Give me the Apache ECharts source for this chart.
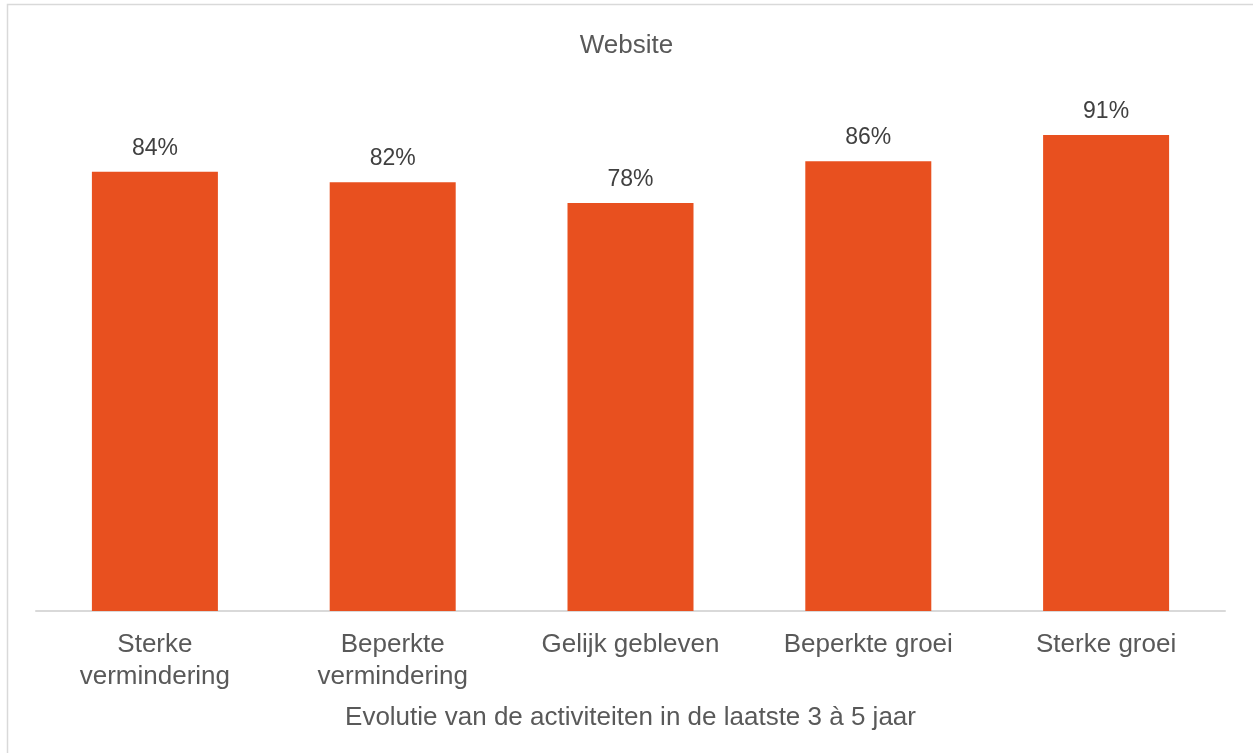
<!DOCTYPE html>
<html>
<head>
<meta charset="utf-8">
<script src="https://cdn.jsdelivr.net/npm/echarts@6/dist/echarts.min.js"></script>
<style>
  html, body { margin: 0; padding: 0; background: #ffffff; }
  #chart { width: 1253px; height: 753px; }
</style>
</head>
<body>
<div id="chart"></div>
<script>
// Share of companies with a website, by evolution of activities
const categories = ['Sterke\nvermindering', 'Beperkte\nvermindering', 'Gelijk gebleven', 'Beperkte groei', 'Sterke groei'];
const values = [84, 82, 78, 86, 91];
const chartTitle = 'Website';
const axisTitle = 'Evolutie van de activiteiten in de laatste 3 à 5 jaar';

const textColor = '#595959';
const barColor = '#E8501F';
const fontFamily = 'Liberation Sans, Arial, sans-serif';

const chart = echarts.init(document.getElementById('chart'), null, { renderer: 'canvas' });
chart.setOption({
  backgroundColor: '#ffffff',
  animation: false,
  title: {
    text: chartTitle,
    left: 'center',
    top: 28,
    textStyle: { color: textColor, fontSize: 26, fontWeight: 'normal', fontFamily }
  },
  graphic: [{
    type: 'rect',
    shape: { x: 7.5, y: 4.5, width: 1260, height: 760 },
    style: { fill: 'none', stroke: '#d9d9d9', lineWidth: 1.5 },
    silent: true,
    z: -1
  }],
  grid: { left: 36, right: 28, top: 88, bottom: 142, containLabel: false },
  xAxis: {
    type: 'category',
    data: categories,
    name: axisTitle,
    nameLocation: 'middle',
    nameGap: 94,
    nameTextStyle: { color: textColor, fontSize: 26, fontFamily },
    axisLine: { lineStyle: { color: '#d9d9d9', width: 2 } },
    axisTick: { show: false },
    axisLabel: {
      color: textColor,
      fontSize: 26,
      lineHeight: 32,
      margin: 18,
      fontFamily,
      interval: 0
    }
  },
  yAxis: {
    type: 'value',
    min: 0,
    max: 100,
    show: false,
    splitLine: { show: false }
  },
  series: [{
    type: 'bar',
    data: values,
    barWidth: 126,
    itemStyle: { color: barColor },
    label: {
      show: true,
      position: 'top',
      distance: 12,
      formatter: '{c}%',
      color: '#404040',
      fontSize: 23,
      fontFamily
    }
  }]
});
</script>
</body>
</html>
